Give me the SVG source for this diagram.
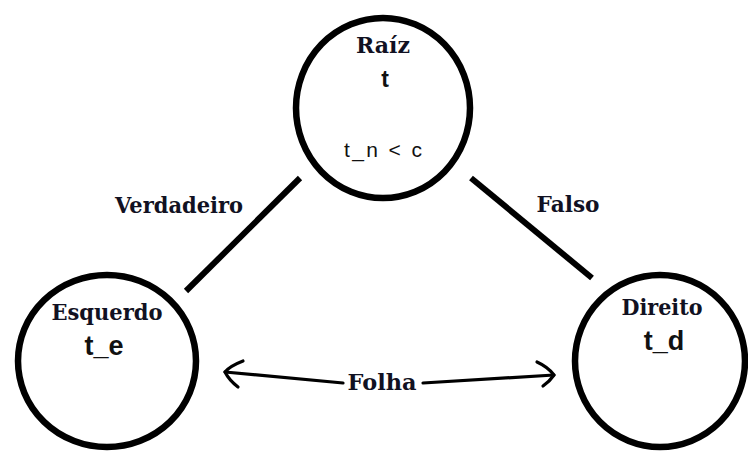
<svg xmlns="http://www.w3.org/2000/svg" width="748" height="452" viewBox="0 0 748 452">
  <style>
    .node { fill: #ffffff; stroke: #000000; stroke-width: 6.5; }
    .edge { stroke: #000000; stroke-width: 6; fill: none; }
    .arrow { stroke: #000000; stroke-width: 3.2; fill: none; stroke-linecap: round; stroke-linejoin: round; }
    .serif { font-family: 'DejaVu Serif', 'Liberation Serif', serif; font-weight: 700; font-size: 23px; fill: #111122; text-anchor: middle; }
    .sans { font-family: 'Liberation Sans', 'DejaVu Sans', sans-serif; fill: #111111; text-anchor: middle; }
  </style>
  <rect width="748" height="452" fill="#ffffff"/>
  <g id="connectors">
    <line class="edge" x1="300" y1="178" x2="186" y2="291"/>
    <line class="edge" x1="471" y1="178" x2="592" y2="278"/>
    <path class="arrow" d="M225 372 L343 383"/>
    <path class="arrow" d="M243 361 Q230 366 225 372 Q229 380 238 387"/>
    <path class="arrow" d="M423 383 L554 375"/>
    <path class="arrow" d="M537 362 Q548 367 554 375 Q550 381 543 386"/>
    <text class="serif" x="179" y="213" textLength="128" lengthAdjust="spacingAndGlyphs">Verdadeiro</text>
    <text class="serif" x="568" y="212" textLength="63" lengthAdjust="spacingAndGlyphs">Falso</text>
    <text class="serif" x="382" y="390" textLength="69" lengthAdjust="spacingAndGlyphs">Folha</text>
  </g>
  <g id="raiz">
    <ellipse class="node" cx="383" cy="108" rx="87" ry="90"/>
    <text class="serif" x="383" y="53" textLength="54" lengthAdjust="spacingAndGlyphs">Raíz</text>
    <text class="sans" x="385" y="87" font-size="23" font-weight="bold">t</text>
    <text class="sans" x="383" y="157" font-size="21" textLength="78" lengthAdjust="spacing">t_n &lt; c</text>
  </g>
  <g id="esquerdo">
    <ellipse class="node" cx="107" cy="361" rx="89" ry="86"/>
    <text class="serif" x="107" y="320" textLength="111" lengthAdjust="spacingAndGlyphs">Esquerdo</text>
    <text class="sans" x="104" y="355" font-size="27" font-weight="bold">t_e</text>
  </g>
  <g id="direito">
    <ellipse class="node" cx="660" cy="361" rx="85" ry="86"/>
    <text class="serif" x="662" y="315" textLength="81" lengthAdjust="spacingAndGlyphs">Direito</text>
    <text class="sans" x="664" y="350" font-size="27" font-weight="bold">t_d</text>
  </g>
</svg>
